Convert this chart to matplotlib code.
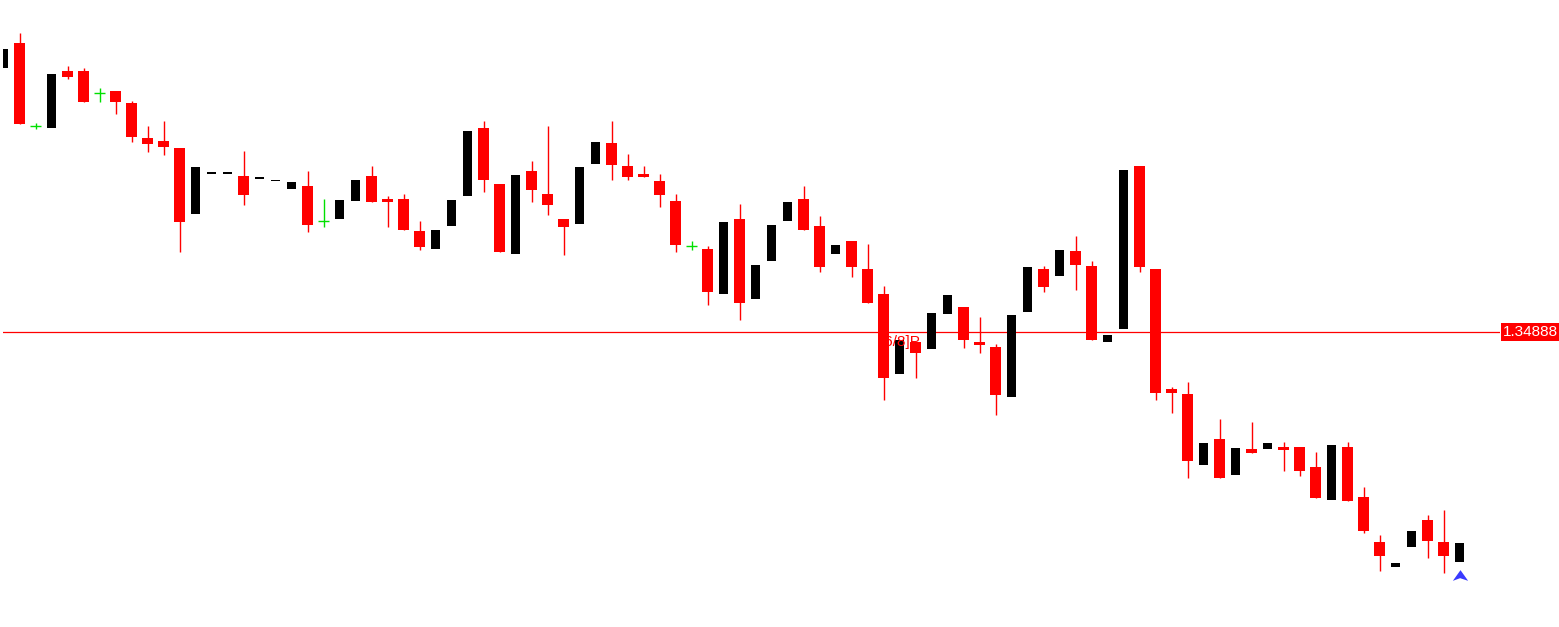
import numpy as np
import matplotlib
matplotlib.use("Agg")
from matplotlib import pyplot as plt
from matplotlib.path import Path

plt.rcParams['font.family'] = ['Liberation Sans', 'DejaVu Sans']

# OHLC, one entry per bar
opens = [1.35152, 1.35177, 1.35094, 1.35092, 1.35149, 1.35149, 1.35127, 1.35129, 1.35117, 1.35082,
         1.35079, 1.35072, 1.35006, 1.35046, 1.35046, 1.35044, 1.35041, 1.35039, 1.35031, 1.35034,
         1.34999, 1.35001, 1.35019, 1.35044, 1.35021, 1.35021, 1.34989, 1.34971, 1.34994, 1.35024,
         1.35092, 1.35036, 1.34966, 1.35049, 1.35026, 1.35001, 1.34996, 1.35056, 1.35077, 1.35054,
         1.35046, 1.35039, 1.35019, 1.34974, 1.34971, 1.34926, 1.35001, 1.34921, 1.34959, 1.34999,
         1.35021, 1.34994, 1.34966, 1.34979, 1.34951, 1.34926, 1.34846, 1.34878, 1.34871, 1.34906,
         1.34913, 1.34878, 1.34873, 1.34823, 1.34908, 1.34951, 1.34944, 1.34969, 1.34954, 1.34878,
         1.34891, 1.35054, 1.34951, 1.34831, 1.34826, 1.34755, 1.34781, 1.34745, 1.34771, 1.34771,
         1.34773, 1.34773, 1.34753, 1.34720, 1.34773, 1.34723, 1.34678, 1.34653, 1.34673, 1.34700,
         1.34678, 1.34658]
highs = [1.35171, 1.35187, 1.35097, 1.35146, 1.35154, 1.35152, 1.35132, 1.35129, 1.35119, 1.35094,
         1.35099, 1.35072, 1.35053, 1.35048, 1.35048, 1.35069, 1.35043, 1.35040, 1.35038, 1.35049,
         1.35021, 1.35020, 1.35040, 1.35054, 1.35024, 1.35026, 1.34999, 1.34990, 1.35020, 1.35089,
         1.35099, 1.35036, 1.35045, 1.35059, 1.35094, 1.35001, 1.35053, 1.35078, 1.35099, 1.35066,
         1.35054, 1.35046, 1.35026, 1.34979, 1.34974, 1.34998, 1.35016, 1.34955, 1.34995, 1.35018,
         1.35034, 1.35004, 1.34975, 1.34979, 1.34976, 1.34934, 1.34880, 1.34878, 1.34907, 1.34925,
         1.34913, 1.34903, 1.34876, 1.34905, 1.34953, 1.34954, 1.34970, 1.34984, 1.34959, 1.34885,
         1.35050, 1.35054, 1.34951, 1.34833, 1.34838, 1.34777, 1.34801, 1.34772, 1.34798, 1.34777,
         1.34778, 1.34773, 1.34768, 1.34775, 1.34778, 1.34733, 1.34685, 1.34657, 1.34689, 1.34705,
         1.34710, 1.34677]
lows = [1.35152, 1.35096, 1.35091, 1.35092, 1.35141, 1.35118, 1.35118, 1.35106, 1.35078, 1.35068,
        1.35065, 1.34968, 1.35006, 1.35046, 1.35046, 1.35015, 1.35041, 1.35039, 1.35031, 1.34988,
        1.34993, 1.35001, 1.35019, 1.35018, 1.34993, 1.34990, 1.34970, 1.34971, 1.34994, 1.35024,
        1.35028, 1.34968, 1.34966, 1.35018, 1.35005, 1.34965, 1.34996, 1.35056, 1.35040, 1.35040,
        1.35043, 1.35013, 1.34968, 1.34970, 1.34915, 1.34926, 1.34900, 1.34921, 1.34959, 1.34999,
        1.34990, 1.34948, 1.34966, 1.34943, 1.34917, 1.34820, 1.34846, 1.34842, 1.34871, 1.34906,
        1.34872, 1.34867, 1.34805, 1.34823, 1.34908, 1.34928, 1.34944, 1.34930, 1.34880, 1.34878,
        1.34891, 1.34948, 1.34820, 1.34807, 1.34742, 1.34755, 1.34742, 1.34745, 1.34767, 1.34771,
        1.34749, 1.34744, 1.34722, 1.34720, 1.34719, 1.34687, 1.34649, 1.34653, 1.34673, 1.34662,
        1.34647, 1.34658]
closes = [1.35171, 1.35096, 1.35094, 1.35146, 1.35143, 1.35118, 1.35127, 1.35118, 1.35083, 1.35076,
          1.35073, 1.34998, 1.35053, 1.35048, 1.35048, 1.35025, 1.35043, 1.35040, 1.35038, 1.34995,
          1.34999, 1.35020, 1.35040, 1.35018, 1.35018, 1.34990, 1.34973, 1.34990, 1.35020, 1.35089,
          1.35040, 1.34968, 1.35045, 1.35030, 1.35015, 1.34993, 1.35053, 1.35078, 1.35055, 1.35043,
          1.35043, 1.35025, 1.34975, 1.34974, 1.34928, 1.34998, 1.34917, 1.34955, 1.34995, 1.35018,
          1.34990, 1.34953, 1.34975, 1.34953, 1.34917, 1.34842, 1.34880, 1.34867, 1.34907, 1.34925,
          1.34880, 1.34875, 1.34825, 1.34905, 1.34953, 1.34933, 1.34970, 1.34955, 1.34880, 1.34885,
          1.35050, 1.34953, 1.34827, 1.34827, 1.34759, 1.34777, 1.34742, 1.34772, 1.34767, 1.34777,
          1.34770, 1.34749, 1.34722, 1.34775, 1.34719, 1.34689, 1.34664, 1.34657, 1.34689, 1.34679,
          1.34664, 1.34677]

bid_price = 1.34888
bid_label = "1.34888"
level_label = "[6/8]P"
level_label_bar = 57.3
arrow_bar = 91
arrow_price = 1.34645

o = np.array(opens)
h = np.array(highs)
l = np.array(lows)
c = np.array(closes)
x = np.arange(len(o))
pt = 0.00001

fig = plt.figure(figsize=(15.59, 6.27), dpi=100)
ax = fig.add_axes([3 / 1559, 0, 1497 / 1559, 1])
ax.set_xlim(-0.5 / 16, 1496.5 / 16)
ax.set_ylim(1.34593, 1.35220)
ax.axis('off')

bear = c < o
bull = c > o
doji = c == o

# bid line
ax.axhline(bid_price, color='#ff0000', lw=0.9, zorder=1)

# bearish bars: red wick + red body
ax.vlines(x[bear], l[bear], h[bear], color='#ff0000', lw=1.0, zorder=2)
ax.bar(x[bear], np.maximum(o[bear] - c[bear], pt), bottom=c[bear], width=11 / 16,
       color='#ff0000', linewidth=0, zorder=3)

# bullish bars: black body (wicks are white on the original)
ax.bar(x[bull], np.maximum(c[bull] - o[bull], pt), bottom=o[bull], width=9 / 16,
       color='black', linewidth=0, zorder=3)

# doji bars in lime
ax.vlines(x[doji], l[doji], h[doji], color='#00e000', lw=1.0, zorder=3)
ax.hlines(c[doji], x[doji] - 5.5 / 16, x[doji] + 5.5 / 16, color='#00e000', lw=1.0, zorder=3)

# murrey level label
ax.text(level_label_bar, bid_price - 0.00010, level_label, color='#ff0000', fontsize=11,
        ha='right', va='center', zorder=4)

# arrow marker under the last bar
arrow = Path([(0, 0.7), (-1, -0.7), (-0.05, -0.35), (1, -0.7), (0, 0.7)],
             [Path.MOVETO, Path.LINETO, Path.LINETO, Path.LINETO, Path.CLOSEPOLY])
ax.plot(arrow_bar, arrow_price, marker=arrow, markersize=11, color='#3a3aff',
        markeredgewidth=0, zorder=4)

# price label on the right
ax.annotate(bid_label, xy=(1.0, bid_price), xycoords=('axes fraction', 'data'),
            xytext=(2, 0), textcoords='offset points', ha='left', va='center',
            color='white', fontsize=11, annotation_clip=False,
            bbox=dict(boxstyle='square,pad=0.12', fc='#ff0000', ec='none'))

fig.savefig('out.png', dpi=100)
